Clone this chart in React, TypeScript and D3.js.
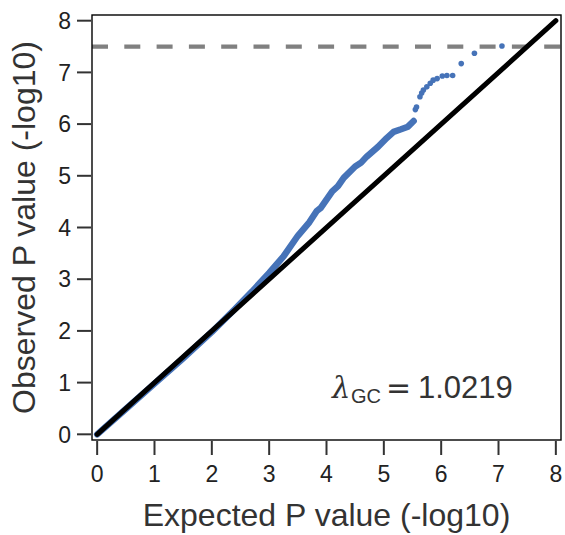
import React from "react";
import * as d3 from "d3";

// dense part of the QQ curve (expected, observed), -log10 p
const denseExpected = [0, 0.5, 1, 1.5, 2, 2.4, 2.7, 3.0, 3.25, 3.5, 3.7, 3.83, 3.9, 4.1, 4.2, 4.3, 4.5, 4.6, 4.7, 4.9, 5.05, 5.17, 5.3, 5.42, 5.52];
const denseObserved = [0, 0.49, 0.98, 1.47, 1.98, 2.42, 2.76, 3.12, 3.44, 3.84, 4.1, 4.32, 4.38, 4.7, 4.8, 4.96, 5.18, 5.25, 5.37, 5.56, 5.73, 5.85, 5.9, 5.95, 6.06];

// sparse tail points
const tailExpected = [5.55, 5.57, 5.63, 5.66, 5.69, 5.75, 5.81, 5.86, 5.93, 6.02, 6.1, 6.2, 6.35, 6.58, 7.06];
const tailObserved = [6.28, 6.33, 6.53, 6.6, 6.66, 6.72, 6.79, 6.85, 6.88, 6.93, 6.94, 6.94, 7.17, 7.37, 7.51];

const xTicks = [0, 1, 2, 3, 4, 5, 6, 7, 8];
const yTicks = [0, 1, 2, 3, 4, 5, 6, 7, 8];
const threshold = 7.5;
const lambdaGC = "1.0219";

const W = 565;
const H = 535;
const plot = { left: 92, right: 561, top: 15, bottom: 440 };
const blue = "#4673b8";
const font = "'Liberation Sans', Arial, sans-serif";

export default function App() {
  const x = d3.scaleLinear().domain([-0.09, 8.09]).range([plot.left, plot.right]);
  const y = d3.scaleLinear().domain([-0.11, 8.11]).range([plot.bottom, plot.top]);

  const dense = denseExpected.map((e, i) => [e, denseObserved[i]] as [number, number]);
  const line = d3
    .line<[number, number]>()
    .x((d) => x(d[0]))
    .y((d) => y(d[1]))
    .curve(d3.curveLinear);

  return (
    <div style={{ position: "absolute", left: 0, top: 0 }}>
      <svg width={W} height={H} style={{ display: "block", background: "#fff" }}>
        {/* genome-wide threshold */}
        <line
          x1={plot.left}
          x2={plot.right}
          y1={y(threshold)}
          y2={y(threshold)}
          stroke="#808080"
          strokeWidth={4.3}
          strokeDasharray="16 16.3"
        />

        {/* observed vs expected */}
        <path d={line(dense) || ""} fill="none" stroke={blue} strokeWidth={6.5} strokeLinecap="round" strokeLinejoin="round" />
        {tailExpected.map((e, i) => (
          <circle key={i} cx={x(e)} cy={y(tailObserved[i])} r={2.8} fill={blue} />
        ))}

        {/* identity line */}
        <line x1={x(0)} y1={y(0)} x2={x(8)} y2={y(8)} stroke="#000" strokeWidth={5} strokeLinecap="round" />

        {/* frame */}
        <rect
          x={plot.left}
          y={plot.top}
          width={plot.right - plot.left}
          height={plot.bottom - plot.top}
          fill="none"
          stroke="#000"
          strokeWidth={1.4}
        />

        {/* x axis */}
        {xTicks.map((t) => (
          <g key={"x" + t}>
            <line x1={x(t)} x2={x(t)} y1={plot.bottom + 1} y2={plot.bottom + 15} stroke="#333" strokeWidth={2} />
            <text x={x(t)} y={482} textAnchor="middle" fontFamily={font} fontSize={23} fill="#222">
              {t}
            </text>
          </g>
        ))}

        {/* y axis */}
        {yTicks.map((t) => (
          <g key={"y" + t}>
            <line x1={plot.left - 1} x2={plot.left - 15} y1={y(t)} y2={y(t)} stroke="#333" strokeWidth={2} />
            <text x={71} y={y(t) + 8.2} textAnchor="end" fontFamily={font} fontSize={23} fill="#222">
              {t}
            </text>
          </g>
        ))}

        {/* axis titles */}
        <text x={(plot.left + plot.right) / 2} y={526} textAnchor="middle" fontFamily={font} fontSize={32} fill="#333">
          Expected P value (-log10)
        </text>
        <text
          transform={`translate(35,${(plot.top + plot.bottom) / 2}) rotate(-90)`}
          textAnchor="middle"
          fontFamily={font}
          fontSize={32}
          fill="#333"
        >
          Observed P value (-log10)
        </text>

        {/* genomic inflation */}
        <g fontFamily={font} fill="#333">
          <text x={332} y={398} fontFamily="'DejaVu Serif', serif" fontStyle="italic" fontSize={29}>λ</text>
          <text x={351} y={403} fontSize={20}>GC</text>
          <text x={386} y={398} fontFamily="'DejaVu Sans', sans-serif" fontSize={30}>=</text>
          <text x={418} y={398} fontSize={31}>{lambdaGC}</text>
        </g>
      </svg>
    </div>
  );
}
